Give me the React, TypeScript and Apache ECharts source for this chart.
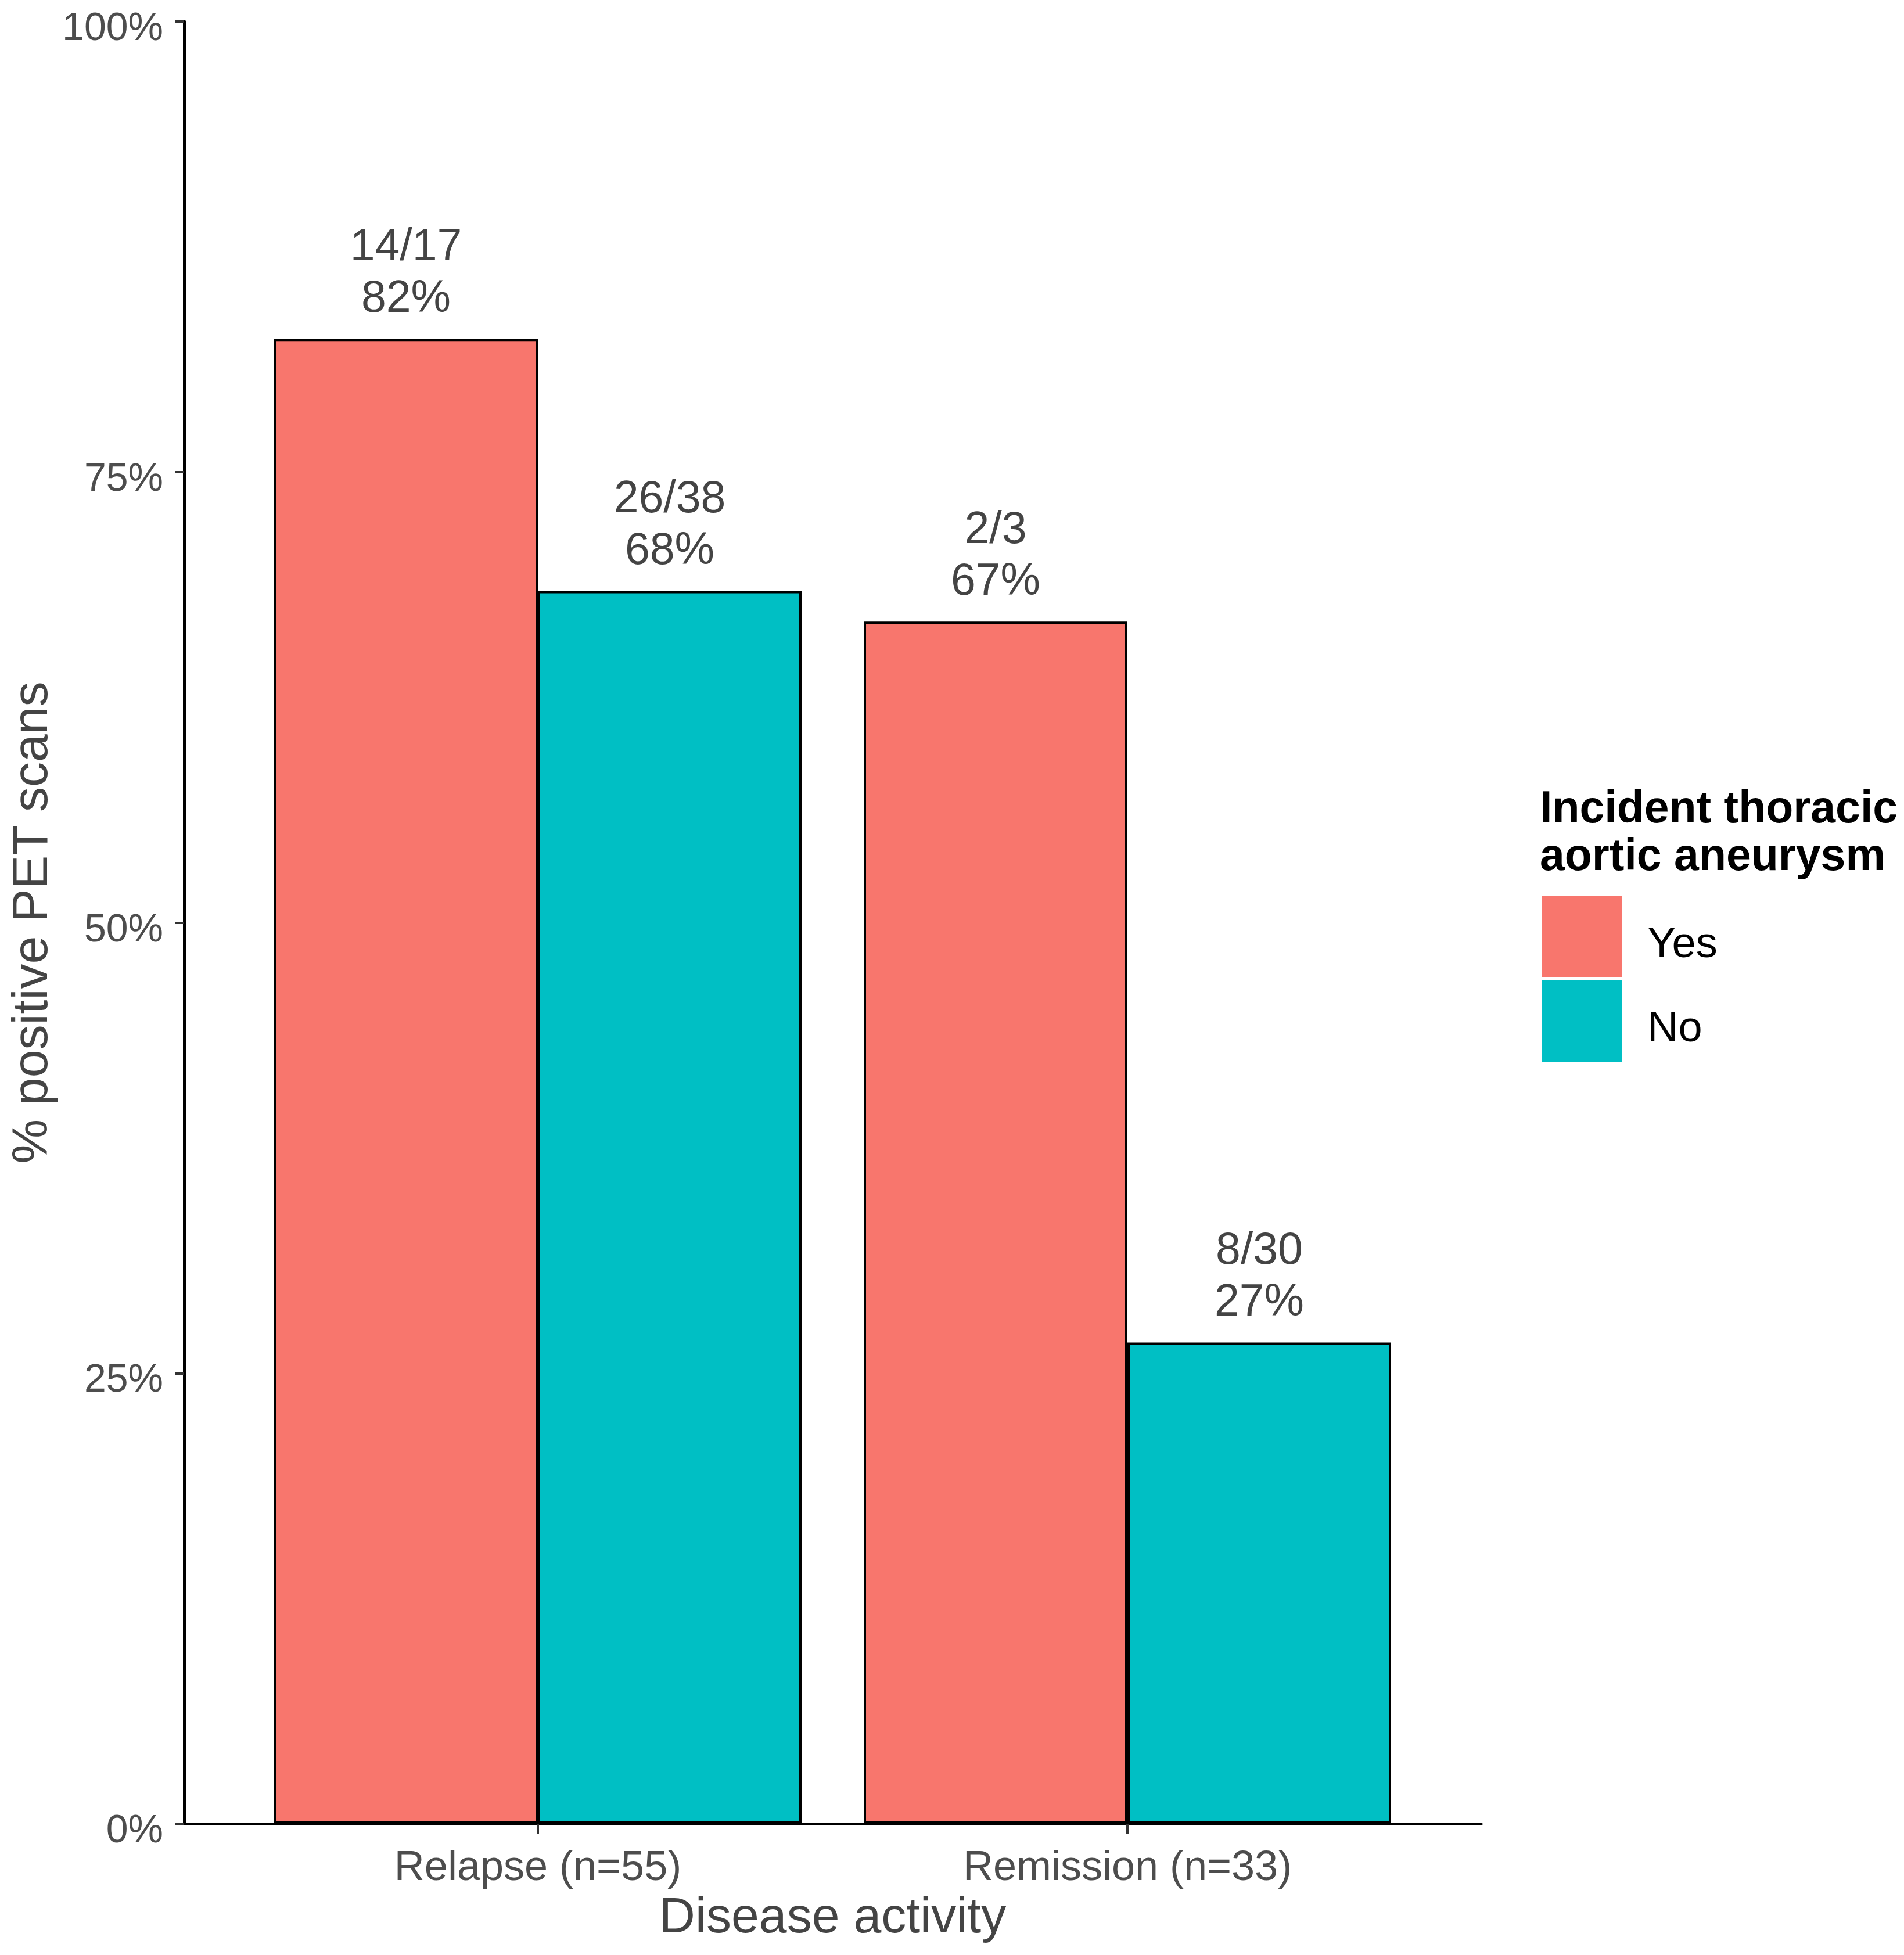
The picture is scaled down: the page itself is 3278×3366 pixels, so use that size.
import React, { useEffect, useRef } from "react";
import * as echarts from "echarts";

const categories = ["Relapse (n=55)", "Remission (n=33)"];
const categoryPositions = [1, 2];
const seriesNames = ["Yes", "No"];
const yesValues = [82.4, 66.7];
const noValues = [68.4, 26.7];
const yesLabels = ["14/17\n82%", "2/3\n67%"];
const noLabels = ["26/38\n68%", "8/30\n27%"];
const yTickValues = [0, 25, 50, 75, 100];
const colors = ["#F8766D", "#00BFC4"];

const FONT = "'Liberation Sans', Arial, sans-serif";

export default function App() {
  const ref = useRef<HTMLDivElement>(null);
  useEffect(() => {
    document.body.style.margin = "0";
    const chart = echarts.init(ref.current as HTMLDivElement, null, { renderer: "svg" });
    const barLabel = (labels: string[]) => ({
      show: true,
      position: "top",
      distance: 29,
      formatter: (p: any) => labels[p.dataIndex],
      fontSize: 77,
      lineHeight: 89,
      color: "#444444",
      fontFamily: FONT,
    });
    const option: any = {
      animation: false,
      backgroundColor: "#ffffff",
      textStyle: { fontFamily: FONT },
      title: {
        text: "Incident thoracic\naortic aneurysm",
        left: 2651,
        top: 1348,
        padding: 0,
        textStyle: {
          fontSize: 77,
          fontWeight: "bold",
          lineHeight: 82,
          color: "#000000",
          fontFamily: FONT,
        },
      },
      legend: {
        orient: "vertical",
        left: 2655,
        top: 1543,
        padding: 0,
        itemWidth: 137,
        itemHeight: 140,
        itemGap: 5,
        icon: "rect",
        itemStyle: { borderWidth: 0 },
        data: seriesNames,
        formatter: (name: string) => `{t|${name}}`,
        textStyle: {
          fontSize: 74,
          color: "#000000",
          fontFamily: FONT,
          rich: {
            t: {
              fontSize: 74,
              color: "#000000",
              fontFamily: FONT,
              padding: [18, 0, 0, 39],
            },
          },
        },
      },
      grid: {
        left: 317,
        top: 37,
        width: 2233,
        height: 3103,
        containLabel: false,
        outerBoundsMode: "none",
      },
      xAxis: {
        type: "value",
        min: 0.4,
        max: 2.6,
        name: "Disease activity",
        nameLocation: "middle",
        nameGap: 114,
        nameTextStyle: { fontSize: 86, color: "#444444", fontFamily: FONT },
        splitLine: { show: false },
        axisLine: { show: true, onZero: false, lineStyle: { color: "#000000", width: 5 } },
        axisTick: {
          show: true,
          customValues: categoryPositions,
          length: 17,
          lineStyle: { color: "#333333", width: 4 },
        },
        axisLabel: {
          show: true,
          customValues: categoryPositions,
          margin: 36,
          fontSize: 72,
          color: "#4D4D4D",
          fontFamily: FONT,
          formatter: (v: number) => {
            const i = categoryPositions.indexOf(Math.round(v));
            return i >= 0 ? categories[i] : "";
          },
        },
      },
      yAxis: {
        type: "value",
        min: 0,
        max: 100,
        interval: 25,
        name: "% positive PET scans",
        nameLocation: "middle",
        nameGap: 226,
        nameTextStyle: { fontSize: 86, lineHeight: 80, color: "#444444", fontFamily: FONT },
        splitLine: { show: false },
        axisLine: { show: true, onZero: false, lineStyle: { color: "#000000", width: 5 } },
        axisTick: {
          show: true,
          customValues: yTickValues,
          length: 16,
          lineStyle: { color: "#333333", width: 4 },
        },
        axisLabel: {
          show: true,
          customValues: yTickValues,
          margin: 36,
          fontSize: 68,
          lineHeight: 16,
          verticalAlign: "top",
          color: "#4D4D4D",
          fontFamily: FONT,
          formatter: (v: number) => `${v}%`,
        },
      },
      series: [
        {
          name: seriesNames[0],
          type: "bar",
          barWidth: 454,
          barGap: "0%",
          data: categoryPositions.map((x, i) => [x, yesValues[i]]),
          itemStyle: { color: colors[0], borderColor: "#000000", borderWidth: 4 },
          label: barLabel(yesLabels),
        },
        {
          name: seriesNames[1],
          type: "bar",
          barWidth: 454,
          barGap: "0%",
          data: categoryPositions.map((x, i) => [x, noValues[i]]),
          itemStyle: { color: colors[1], borderColor: "#000000", borderWidth: 4 },
          label: barLabel(noLabels),
        },
      ],
    };
    chart.setOption(option);
    return () => chart.dispose();
  }, []);
  return <div ref={ref} style={{ width: 3278, height: 3366 }} />;
}
